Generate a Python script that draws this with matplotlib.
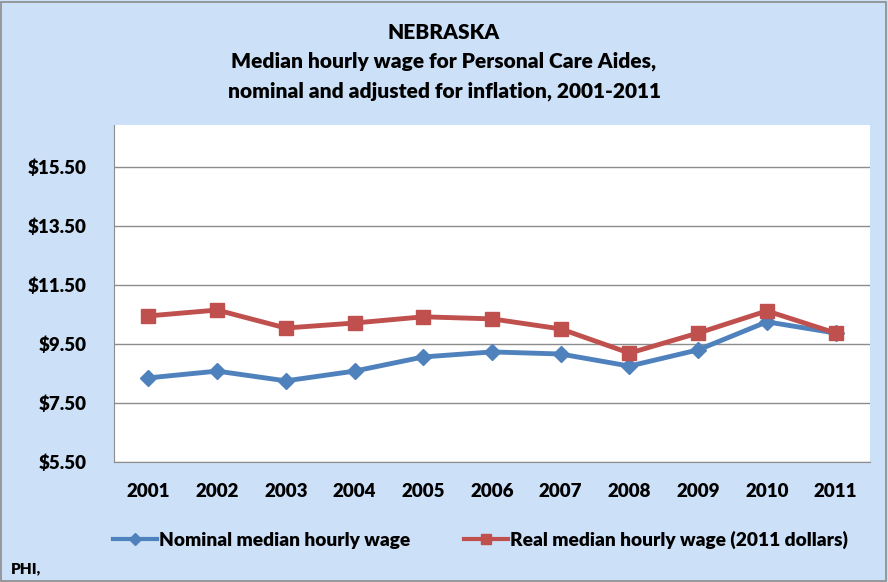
import matplotlib.pyplot as plt
from matplotlib.patches import Rectangle

plt.rcParams['font.family'] = ['Lato', 'DejaVu Sans']
plt.rcParams['font.weight'] = 'heavy'

years = ['2001', '2002', '2003', '2004', '2005', '2006', '2007', '2008', '2009', '2010', '2011']
nominal = [8.35, 8.58, 8.25, 8.58, 9.06, 9.23, 9.16, 8.75, 9.30, 10.25, 9.87]
real = [10.45, 10.65, 10.04, 10.21, 10.42, 10.35, 10.01, 9.19, 9.87, 10.62, 9.87]
yticks = [5.5, 7.5, 9.5, 11.5, 13.5, 15.5]

bg = '#cce0f7'
blue = '#4f81bd'
red = '#c0504d'

fig = plt.figure(figsize=(8.88, 5.82), dpi=100)
fig.patch.set_facecolor(bg)
fig.patches.append(Rectangle((0.001, 0.002), 0.997, 0.995, transform=fig.transFigure,
                             fill=False, edgecolor='#8c8c8c', linewidth=1.2))

ax = fig.add_axes([0.1284, 0.2062, 0.8513, 0.5790])
ax.set_facecolor('white')

x = list(range(len(years)))
ax.plot(x, nominal, color=blue, linewidth=3.5, marker='D', markersize=8,
        label='Nominal median hourly wage')
ax.plot(x, real, color=red, linewidth=3.5, marker='s', markersize=10,
        label='Real median hourly wage (2011 dollars)')

ax.set_xlim(-0.5, 10.5)
ax.set_ylim(5.5, 16.92)
ax.set_xticks(x)
ax.set_xticklabels(years)
ax.set_yticks(yticks)
ax.set_yticklabels(['${:.2f}'.format(v) for v in yticks])
ax.tick_params(length=0, labelsize=13.5, colors='black')
ax.tick_params(axis='x', pad=15)
ax.tick_params(axis='y', pad=20)
ax.grid(axis='y', color='#8c8c8c', linewidth=1)
ax.set_axisbelow(True)
for side in ['top', 'right']:
    ax.spines[side].set_visible(False)
for side in ['left', 'bottom']:
    ax.spines[side].set_color('#8c8c8c')

fig.text(0.5, 0.944, 'NEBRASKA', ha='center', va='center', fontsize=15)
fig.text(0.5, 0.894, 'Median hourly wage for Personal Care Aides,', ha='center', va='center', fontsize=15)
fig.text(0.5, 0.844, 'nominal and adjusted for inflation, 2001-2011', ha='center', va='center', fontsize=15)

leg = fig.legend(loc='center', bbox_to_anchor=(0.541, 0.072), ncol=2, frameon=False,
                 fontsize=13.8, handlelength=2.3, handletextpad=0.1, columnspacing=2.8,
                 markerscale=0.75)
for line in leg.get_lines():
    line.set_linewidth(3)

fig.text(0.012, 0.015, 'PHI,', fontsize=11)

fig.savefig('out.png', dpi=100, facecolor=bg)
